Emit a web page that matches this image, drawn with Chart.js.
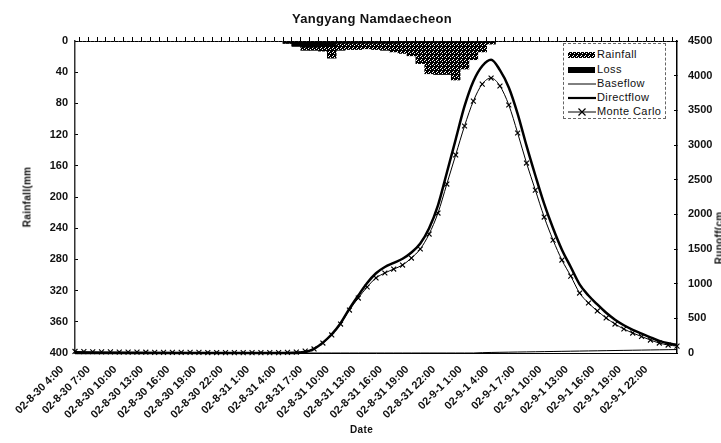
<!DOCTYPE html>
<html>
<head>
<meta charset="utf-8">
<script src="https://cdn.jsdelivr.net/npm/chart.js@4"></script>
<style>
  body { margin: 0; background: #fff; overflow: hidden; }
  #wrap { position: relative; width: 721px; height: 443px; overflow: hidden; font-family: "Liberation Sans", Arial, sans-serif; color: #111; }
  #wrap canvas { position: absolute; left: 0; top: 0; }
  .txt { position: absolute; font-weight: bold; white-space: nowrap; }
  #chartTitle { left: 0; width: 744px; top: 11px; text-align: center; font-size: 13px; letter-spacing: 0.3px; }
  #dateTitle { left: 350px; top: 424px; font-size: 10px; letter-spacing: 0.4px; }
  #rainTitle { left: 27px; top: 197px; font-size: 10px; letter-spacing: 0.3px; transform: translate(-50%, -50%) rotate(-90deg); }
  #runoffTitle { left: 719px; top: 238px; font-size: 10px; letter-spacing: 0.3px; transform: translate(-50%, -50%) rotate(-90deg); }
  #legend { position: absolute; left: 563px; top: 43px; width: 101px; height: 74px; border: 1px dashed #666; background: #fff; }
  .legRow { position: absolute; left: 0; height: 12px; width: 101px; }
  .legRow svg, .legRow .sw { position: absolute; left: 4px; top: 3px; }
  .legRow span { position: absolute; left: 33px; top: -1px; font-size: 11px; letter-spacing: 0.4px; }
</style>
</head>
<body>
<div id="wrap">
  <canvas id="hydroChart" width="721" height="443"></canvas>
  <div id="chartTitle" class="txt">Yangyang Namdaecheon</div>
  <div id="dateTitle" class="txt">Date</div>
  <div id="rainTitle" class="txt">Rainfall(mm</div>
  <div id="runoffTitle" class="txt">Runoff(cm</div>
  <div id="legend"></div>
</div>
<script>
// hourly categories
const timeLabels = [
  "02-8-30 4:00", "02-8-30 5:00", "02-8-30 6:00", "02-8-30 7:00", "02-8-30 8:00", "02-8-30 9:00",
  "02-8-30 10:00", "02-8-30 11:00", "02-8-30 12:00", "02-8-30 13:00", "02-8-30 14:00", "02-8-30 15:00",
  "02-8-30 16:00", "02-8-30 17:00", "02-8-30 18:00", "02-8-30 19:00", "02-8-30 20:00", "02-8-30 21:00",
  "02-8-30 22:00", "02-8-30 23:00",
  "02-8-31 0:00", "02-8-31 1:00", "02-8-31 2:00", "02-8-31 3:00", "02-8-31 4:00", "02-8-31 5:00",
  "02-8-31 6:00", "02-8-31 7:00", "02-8-31 8:00", "02-8-31 9:00", "02-8-31 10:00", "02-8-31 11:00",
  "02-8-31 12:00", "02-8-31 13:00", "02-8-31 14:00", "02-8-31 15:00", "02-8-31 16:00", "02-8-31 17:00",
  "02-8-31 18:00", "02-8-31 19:00", "02-8-31 20:00", "02-8-31 21:00", "02-8-31 22:00", "02-8-31 23:00",
  "02-9-1 0:00", "02-9-1 1:00", "02-9-1 2:00", "02-9-1 3:00", "02-9-1 4:00", "02-9-1 5:00",
  "02-9-1 6:00", "02-9-1 7:00", "02-9-1 8:00", "02-9-1 9:00", "02-9-1 10:00", "02-9-1 11:00",
  "02-9-1 12:00", "02-9-1 13:00", "02-9-1 14:00", "02-9-1 15:00", "02-9-1 16:00", "02-9-1 17:00",
  "02-9-1 18:00", "02-9-1 19:00", "02-9-1 20:00", "02-9-1 21:00", "02-9-1 22:00", "02-9-1 23:00",
  "02-9-2 0:00"
];

// rainfall (mm), hanging from the top axis
const rainfall = [
  0, 0, 0, 0, 0, 0, 0, 0, 0, 0, 0, 0, 0, 0, 0, 0, 0, 0, 0, 0, 0, 0, 0, 0,
  3, 7, 12, 12, 13, 22, 12, 11, 11, 10, 11, 12, 14, 16, 19, 29, 42, 43, 43, 50, 36, 24, 14, 4,
  0, 0, 0, 0, 0, 0, 0, 0, 0, 0, 0, 0, 0, 0, 0, 0, 0, 0, 0, 0, 0
];
const loss = [
  0, 0, 0, 0, 0, 0, 0, 0, 0, 0, 0, 0, 0, 0, 0, 0, 0, 0, 0, 0, 0, 0, 0, 0,
  3, 6, 8, 8, 7, 6, 3, 3, 3, 3, 3, 3, 3, 2, 2, 2, 2, 2, 2, 2, 2, 2, 2, 1,
  0, 0, 0, 0, 0, 0, 0, 0, 0, 0, 0, 0, 0, 0, 0, 0, 0, 0, 0, 0, 0
];

// runoff (cms)
const baseflow = [
  0, 0, 0, 0, 0, 0, 0, 0, 0, 0, 0, 0, 0, 0, 0, 0, 0, 0, 0, 0, 0, 0, 0, 0, 0, 0,
  0, 0, 0, 0, 0, 0, 0, 0, 0, 0, 0, 0, 0, 0, 0, 0, 0, 0, 0, 0,
  5, 8, 10, 12, 14, 16, 18, 20, 22, 24, 26, 28, 30, 32, 34, 36, 38, 40, 42, 44, 46, 48, 50
];
const directflow = [
  0, 0, 0, 0, 0, 0, 0, 0, 0, 0, 0, 0, 0, 0, 0, 0, 0, 0, 0, 0, 0, 0, 0, 0, 0, 0, 15,
  60, 150, 270, 430, 640, 830, 1010, 1150, 1240, 1300, 1360, 1450, 1580, 1800, 2130, 2600,
  3080, 3560, 3920, 4140, 4230, 4080, 3830, 3450, 2990, 2560, 2150, 1800, 1490, 1240, 990,
  830, 700, 580, 480, 400, 335, 280, 225, 175, 140, 115
];
const monteCarlo = [
  22, 20, 18, 16, 15, 14, 13, 12, 11, 10, 10, 9, 9, 8, 8, 7, 7, 6, 6, 6, 5, 5, 5, 6, 8, 14, 28,
  58, 144, 260, 418, 620, 793, 952, 1082, 1154, 1211, 1269, 1370, 1500, 1716, 2019, 2437,
  2856, 3274, 3634, 3879, 3966, 3851, 3577, 3173, 2740, 2350, 1961, 1629, 1341, 1110, 865,
  721, 606, 505, 418, 346, 288, 238, 187, 144, 115, 100
];

const rainTicks = { min: 0, max: 400, step: 40 };
const runoffTicks = { min: 0, max: 4500, step: 500 };

const tickFont = { family: "'Liberation Sans', Arial, sans-serif", size: 11, weight: "bold" };

function makeDither() {
  let c = document.createElement("canvas");
  c.width = 4;
  c.height = 4;
  let g = c.getContext("2d");
  g.fillStyle = "#000";
  g.fillRect(0, 0, 4, 4);
  g.fillStyle = "#fff";
  [[0, 0], [2, 1], [1, 3]].forEach(p => g.fillRect(p[0], p[1], 1, 1));
  return c;
}

function renderLegend(ditherUrl) {
  let legend = document.getElementById("legend");
  let rows = [
    { name: "Rainfall", sw: `<div class="sw" style="width:27px;height:6px;background:url(${ditherUrl})"></div>` },
    { name: "Loss", sw: `<div class="sw" style="width:27px;height:6px;background:#000"></div>` },
    { name: "Baseflow", sw: `<svg width="28" height="6"><line x1="0" y1="3" x2="28" y2="3" stroke="#000" stroke-width="1"/></svg>` },
    { name: "Directflow", sw: `<svg width="28" height="6"><line x1="0" y1="3" x2="28" y2="3" stroke="#000" stroke-width="2.2"/></svg>` },
    { name: "Monte Carlo", sw: `<svg width="28" height="8" style="top:2px"><line x1="0" y1="4" x2="28" y2="4" stroke="#000" stroke-width="1"/><path d="M10.5 0.5 L17.5 7.5 M17.5 0.5 L10.5 7.5" stroke="#000" stroke-width="1.2"/></svg>` }
  ];
  let tops = [5, 20, 34, 48, 62];
  legend.innerHTML = "";
  rows.forEach((r, i) => {
    legend.innerHTML += `<div class="legRow" style="top:${tops[i]}px">${r.sw}<span>${r.name}</span></div>`;
  });
}

function renderChart() {
  let ditherCanvas = makeDither();
  let ctx = document.getElementById("hydroChart").getContext("2d");
  let rainPattern = ctx.createPattern(ditherCanvas, "repeat");
  renderLegend(ditherCanvas.toDataURL());

  new Chart(ctx, {
    type: "bar",
    data: {
      labels: timeLabels,
      datasets: [
        {
          type: "line", label: "Monte Carlo", data: monteCarlo, yAxisID: "y2",
          borderColor: "#000", borderWidth: 1, pointStyle: "crossRot", pointRadius: 3.5,
          pointBorderColor: "#000", pointBorderWidth: 1.1, cubicInterpolationMode: "monotone",
          clip: false, order: 0
        },
        {
          type: "line", label: "Directflow", data: directflow, yAxisID: "y2",
          borderColor: "#000", borderWidth: 2.5, pointRadius: 0, cubicInterpolationMode: "monotone",
          clip: false, order: 1
        },
        {
          type: "line", label: "Baseflow", data: baseflow, yAxisID: "y2",
          borderColor: "#000", borderWidth: 1, pointRadius: 0, clip: false, order: 2
        },
        {
          label: "Loss", data: loss, yAxisID: "y", backgroundColor: "#000",
          grouped: false, barPercentage: 1, categoryPercentage: 1, order: 3
        },
        {
          label: "Rainfall", data: rainfall, yAxisID: "y", backgroundColor: rainPattern,
          grouped: false, barPercentage: 1, categoryPercentage: 1, order: 4
        }
      ]
    },
    options: {
      responsive: false,
      animation: false,
      layout: { padding: 0 },
      plugins: { legend: { display: false }, tooltip: { enabled: false } },
      scales: {
        x: {
          type: "category", position: "bottom", offset: false,
          grid: { display: false },
          border: { color: "#000", width: 1 },
          ticks: {
            autoSkip: false, minRotation: 45, maxRotation: 45, labelOffset: -13, padding: 2,
            font: tickFont, color: "#111",
            callback: (v, i) => (i % 3 === 0 ? timeLabels[i] : "")
          },
          afterFit: s => { s.height = 90; }
        },
        x2: {
          type: "category", position: "top", offset: false,
          grid: { drawOnChartArea: false, tickLength: 4, color: "#000" },
          border: { color: "#000", width: 1 },
          ticks: { display: false },
          afterFit: s => { s.height = 41; }
        },
        y: {
          position: "left", reverse: true, min: rainTicks.min, max: rainTicks.max,
          grid: { drawOnChartArea: false, tickLength: -3, color: "#000" },
          border: { color: "#333", width: 1.5 },
          ticks: { stepSize: rainTicks.step, padding: 10, font: tickFont, color: "#111", callback: v => String(v) },
          afterFit: s => { s.width = 75; }
        },
        y2: {
          position: "right", min: runoffTicks.min, max: runoffTicks.max,
          grid: { drawOnChartArea: false, tickLength: -3, color: "#000" },
          border: { color: "#000", width: 1.5 },
          ticks: { stepSize: runoffTicks.step, padding: 14, font: tickFont, color: "#111", callback: v => String(v) },
          afterFit: s => { s.width = 44; }
        }
      }
    }
  });
}

renderChart();
</script>
</body>
</html>
